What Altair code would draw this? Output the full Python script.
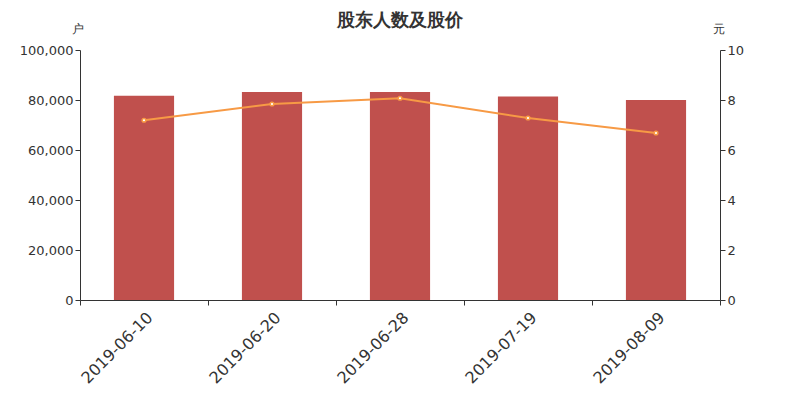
import altair as alt
import pandas as pd

dates = ["2019-06-10", "2019-06-20", "2019-06-28", "2019-07-19", "2019-08-09"]
holders = [81700, 83200, 83200, 81400, 80000]
prices = [7.19, 7.84, 8.07, 7.28, 6.68]

df = pd.DataFrame({"date": dates, "holders": holders, "price": prices})

font = "DejaVu Sans"
orange = "#F79A45"
bar_color = "#C0504D"

x = alt.X("date:N", sort=dates, title=None,
          scale=alt.Scale(paddingInner=0, paddingOuter=0),
          axis=alt.Axis(labelAngle=-45, labelFontSize=16, labelColor="#333",
                        labelFont=font, tickBand="extent", tickColor="#333",
                        domainColor="#333", tickSize=5, labelPadding=4))

bars = alt.Chart(df).mark_bar(color=bar_color, width=alt.RelativeBandSize(0.47)).encode(
    x=x,
    y=alt.Y("holders:Q", scale=alt.Scale(domain=[0, 100000], nice=False),
            axis=alt.Axis(orient="left", values=[0, 20000, 40000, 60000, 80000, 100000],
                          format=",.0f", title="户", titleAngle=0, titleX=-3, titleY=-22,
                          titleAlign="center", titleBaseline="middle", titleFontWeight="normal",
                          titleFontSize=12, titleColor="#333", titleFont=font,
                          labelFontSize=13, labelColor="#333", labelFont=font,
                          grid=False, domainColor="#333", tickColor="#333", tickSize=5)),
)

line = alt.Chart(df).mark_line(
    color=orange, strokeWidth=2,
    point=alt.OverlayMarkDef(filled=True, fill="white", stroke=orange, strokeWidth=1.5, size=14),
).encode(
    x=alt.X("date:N", sort=dates),
    y=alt.Y("price:Q", scale=alt.Scale(domain=[0, 10], nice=False),
            axis=alt.Axis(orient="right", values=[0, 2, 4, 6, 8, 10],
                          title="元", titleAngle=0, titleX=-2, titleY=-22,
                          titleAlign="center", titleBaseline="middle", titleFontWeight="normal",
                          titleFontSize=12, titleColor="#333", titleFont=font,
                          labelFontSize=13, labelColor="#333", labelFont=font,
                          grid=False, domainColor="#333", tickColor="#333", tickSize=5)),
)

chart = alt.layer(bars, line).resolve_scale(y="independent").properties(
    width=640, height=250,
    autosize=alt.AutoSizeParams(type="none"),
    padding={"left": 72, "top": 42, "right": 72, "bottom": 100},
    title=alt.TitleParams("股东人数及股价", anchor="middle", fontSize=18, fontWeight="bold",
                          color="#333", font=font, offset=-8),
).configure_view(stroke=None)

chart.save("out.html", embed_options={"renderer": "svg", "actions": False})
